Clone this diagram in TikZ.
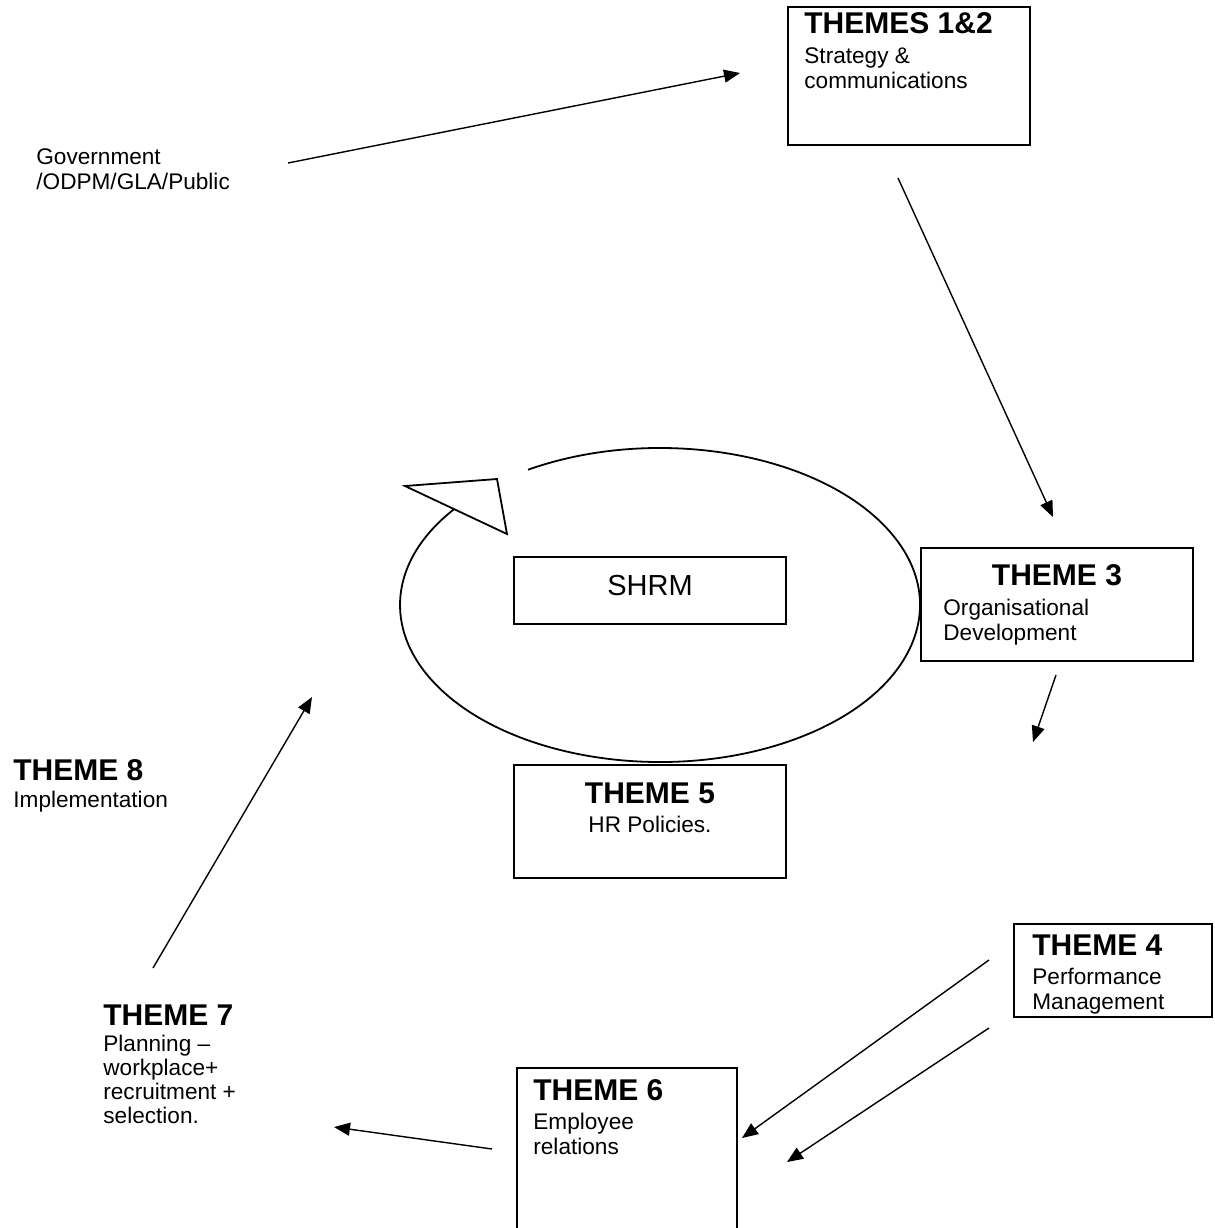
\documentclass[tikz,border=0pt]{standalone}
\usepackage{fontspec}
\setmainfont{Liberation Sans}
\usepackage{tikz}
\usetikzlibrary{arrows.meta}

\newcommand{\hdfont}{\fontsize{15}{17}\selectfont\bfseries}
\newcommand{\bdfont}{\fontsize{11.3}{12.5}\selectfont}

\begin{document}
\begin{tikzpicture}[x=0.5pt, y=-0.5pt,
  box/.style = {draw, line width=1.1pt, inner sep=0pt},
  head/.style = {font=\hdfont, inner sep=0pt, anchor=base west},
  body/.style = {font=\bdfont, inner sep=0pt, anchor=base west, align=left},
  conn/.style = {-{Triangle[length=8pt,width=6.5pt]}, line width=0.7pt}]
  \useasboundingbox (0,0) rectangle (1215,1228);
  \clip (0,0) rectangle (1215,1228);
  % boxes
  \node[box, minimum width=121pt, minimum height=69pt] (t12) at (909,76) {};
  \node[box, minimum width=136pt, minimum height=56.5pt] (t3) at (1057,604.5) {};
  \node[box, minimum width=136pt, minimum height=33.5pt] (shrm) at (650,590.5) {};
  \node[box, minimum width=136pt, minimum height=56.5pt] (t5) at (650,821.5) {};
  \node[box, minimum width=99pt, minimum height=46.5pt] (t4) at (1113,970.5) {};
  \node[box, minimum width=110pt, minimum height=96pt] (t6) at (627,1164) {};
  % texts (base = last line)
  \node[body] (gov) at (36,189) {Government\\/ODPM/GLA/Public};
  \node[head] (t12h) at (804,33) {THEMES 1\&2};
  \node[body] (t12b) at (804,88) {Strategy \&\\communications};
  \node[head, anchor=base] (t3h) at (1057,585) {THEME 3};
  \node[body] (t3b) at (943,640) {Organisational\\Development};
  \node[font=\fontsize{14.5}{17}\selectfont, inner sep=0pt, anchor=base] (shrmt) at (650,595) {SHRM};
  \node[head, anchor=base] (t5h) at (650,803) {THEME 5};
  \node[body, anchor=base] (t5b) at (650,832) {HR Policies.};
  \node[head] (t8h) at (13,780) {THEME 8};
  \node[body] (t8b) at (13,807) {Implementation};
  \node[head] (t4h) at (1032,955) {THEME 4};
  \node[body] (t4b) at (1032,1009) {Performance\\Management};
  \node[head] (t7h) at (103,1025) {THEME 7};
  \node[body, font=\fontsize{11.3}{12}\selectfont] (t7b) at (103,1123) {Planning --\\workplace+\\recruitment +\\selection.};
  \node[head] (t6h) at (533,1100) {THEME 6};
  \node[body] (t6b) at (533,1154) {Employee\\relations};
  % cycle round SHRM
  \coordinate (cyc) at (660,605);
  \draw[line width=0.9pt] (cyc) ++(120.5:130pt and 78.5pt)
    arc[start angle=120.5, end angle=-217.6, x radius=130pt, y radius=78.5pt];
  \draw[line width=0.9pt, line join=miter] (405,486) -- (497,479) -- (507,534) -- cycle;
  % arrow ends
  \coordinate (govout) at (288,163);
  \coordinate (t12in) at (740,73);
  \coordinate (t12out) at (898,178);
  \coordinate (t3in) at (1053,517);
  \coordinate (t3out) at (1056,675);
  \coordinate (t3to) at (1033,742);
  \coordinate (t4outa) at (989,960);
  \coordinate (t6ina) at (742,1138);
  \coordinate (t4outb) at (989,1028);
  \coordinate (t6inb) at (787,1162);
  \coordinate (t6out) at (492,1149);
  \coordinate (t7in) at (334,1127);
  \coordinate (t7out) at (153,968);
  \coordinate (cycin) at (312,697);
  \draw[conn] (govout) -- (t12in);
  \draw[conn] (t12out) -- (t3in);
  \draw[conn] (t3out) -- (t3to);
  \draw[conn] (t4outa) -- (t6ina);
  \draw[conn] (t4outb) -- (t6inb);
  \draw[conn] (t6out) -- (t7in);
  \draw[conn] (t7out) -- (cycin);
\end{tikzpicture}
\end{document}
